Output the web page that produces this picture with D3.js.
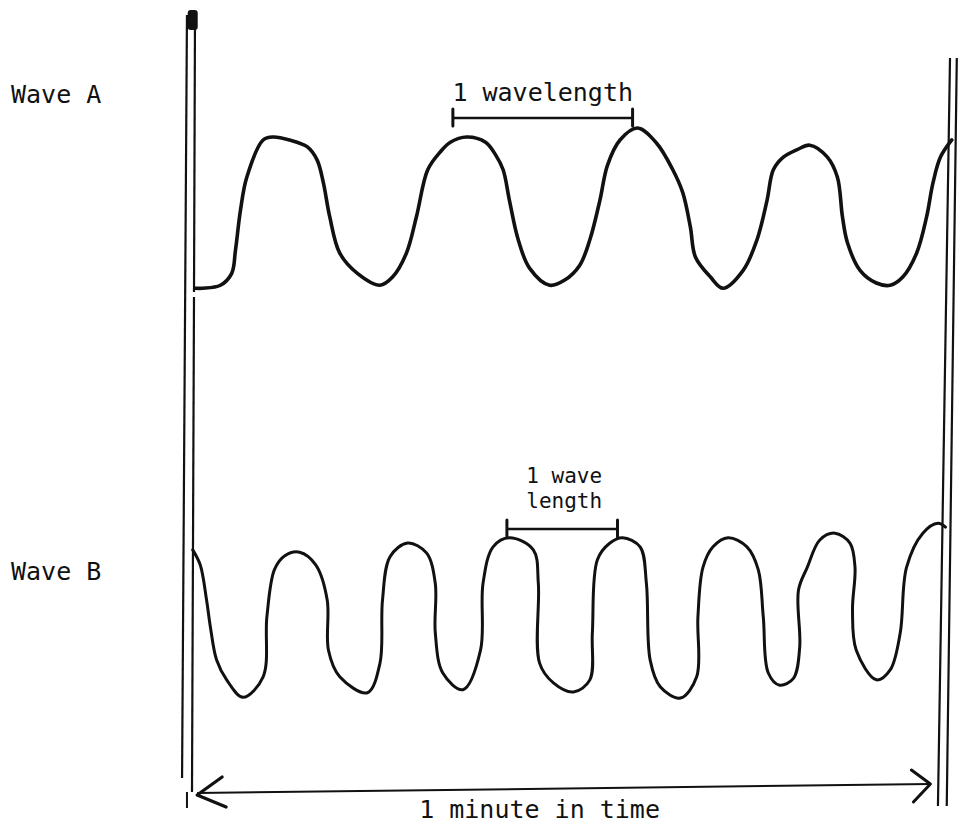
<!DOCTYPE html>
<html>
<head>
<meta charset="utf-8">
<script src="https://cdn.jsdelivr.net/npm/d3@7"></script>
<style>
body { margin: 0; background: #fff; }
svg text { font-family: "DejaVu Sans Mono", monospace; font-size: 25px; fill: #111; }
svg text.small { font-size: 21px; }
</style>
</head>
<body>
<svg id="chart" width="960" height="832"></svg>
<script>
// one minute of each trace
// time in seconds, amplitude -1 (trough) .. 1 (crest)
var wave_a_time = [0.1, 0.7, 2.1, 3.0, 3.3, 3.7, 4.2, 5.5, 6.3, 7.6, 9.0, 9.8, 10.3, 10.8, 11.6, 13.0, 14.8, 15.8, 16.9, 17.7,
	18.6, 19.6, 20.4, 21.7, 23.2, 24.0, 24.6, 25.1, 25.8, 26.7, 28.3, 29.5, 30.7, 31.5, 32.3, 32.9, 33.9, 35.3, 36.8, 38.1,
	38.9, 39.5, 39.9, 41.1, 42.1, 43.7, 44.8, 45.6, 46.1, 46.9, 48.0, 49.0, 50.4, 51.2, 51.6, 52.0, 53.0, 54.3, 55.4, 56.4,
	57.5, 58.3, 58.8, 59.4, 60.3];
var wave_a_amp = [-1.03, -1.03, -0.99, -0.83, -0.52, 0.02, 0.46, 0.96, 1.0, 0.96, 0.87, 0.69, 0.38, -0.07, -0.56, -0.83, -0.99, -0.88, -0.56, -0.07,
	0.56, 0.80, 0.93, 1.0, 0.93, 0.76, 0.56, 0.15, -0.38, -0.76, -0.99, -0.92, -0.72, -0.38, 0.15, 0.62, 0.96, 1.12, 0.92, 0.56,
	0.25, -0.21, -0.61, -0.88, -1.03, -0.79, -0.38, 0.15, 0.56, 0.73, 0.83, 0.89, 0.73, 0.46, -0.07, -0.42, -0.79, -0.96, -0.99, -0.88,
	-0.56, -0.07, 0.38, 0.73, 0.96];

var wave_b_time = [-0.1, 0.5, 1.0, 1.3, 1.8, 2.6, 3.9, 5.5, 5.8, 6.4, 7.2, 8.4, 9.7, 10.6, 10.7, 11.6, 13.8, 14.8, 15.0, 15.6,
	17.0, 18.5, 19.2, 19.2, 19.8, 21.4, 22.8, 23.0, 23.8, 25.1, 27.0, 27.4, 27.5, 28.6, 30.2, 31.5, 31.7, 32.1, 33.1, 34.1,
	35.5, 36.0, 36.3, 37.1, 38.7, 40.0, 40.1, 40.5, 41.3, 42.5, 44.0, 44.9, 45.3, 45.7, 46.6, 47.7, 48.2, 48.1, 48.8, 49.8,
	51.0, 52.2, 52.6, 52.4, 52.7, 54.3, 55.4, 56.2, 56.7, 58.0, 59.2, 59.8];
var wave_b_amp = [0.87, 0.67, 0.21, -0.14, -0.58, -0.84, -1.07, -0.80, -0.01, 0.61, 0.79, 0.84, 0.67, 0.21, -0.45, -0.80, -1.01, -0.62, 0.21, 0.78,
	0.96, 0.83, 0.43, -0.22, -0.75, -0.97, -0.45, 0.43, 0.91, 1.03, 0.87, 0.43, -0.62, -0.88, -1.0, -0.84, -0.22, 0.74, 0.96, 1.03,
	0.91, 0.43, -0.58, -0.93, -1.08, -0.80, -0.01, 0.64, 0.91, 1.03, 0.91, 0.61, -0.01, -0.75, -0.91, -0.82, -0.41, 0.34, 0.64, 1.0,
	1.09, 0.96, 0.64, 0.08, -0.45, -0.84, -0.71, -0.22, 0.64, 1.09, 1.22, 1.17];

var labels = ["Wave A", "Wave B"];
// marked wavelengths, crest to crest, in seconds
var wavelength_a = [20.6, 34.9];
var wavelength_b = [24.9, 33.7];
var span_label = "1 minute in time";

var svg = d3.select("#chart");
var ink = "#111";

var x = d3.scaleLinear().domain([0, 60]).range([194, 948]);
var ya = d3.scaleLinear().domain([-1, 1]).range([286, 137]);
var yb = d3.scaleLinear().domain([-1, 1]).range([692, 540]);

var pts = function(t, a){
	return t.map(function(d, i){ return [d, a[i]]; });
};

var line_a = d3.line()
	.x(function(d){ return x(d[0]); })
	.y(function(d){ return ya(d[1]); })
	.curve(d3.curveCatmullRom.alpha(0.5));
var line_b = d3.line()
	.x(function(d){ return x(d[0]); })
	.y(function(d){ return yb(d[1]); })
	.curve(d3.curveCatmullRom.alpha(0.5));

svg.append("path")
	.datum(pts(wave_a_time, wave_a_amp))
	.attr("d", line_a)
	.attr("fill", "none")
	.attr("stroke", ink)
	.attr("stroke-width", 3.6)
	.attr("stroke-linejoin", "round")
	.attr("stroke-linecap", "round");

svg.append("path")
	.datum(pts(wave_b_time, wave_b_amp))
	.attr("d", line_b)
	.attr("fill", "none")
	.attr("stroke", ink)
	.attr("stroke-width", 3)
	.attr("stroke-linejoin", "round")
	.attr("stroke-linecap", "round");

// the two hand ruled boundary lines (start and end of the minute)
var rule = function(t0, y0, t1, y1, w){
	svg.append("line")
		.attr("x1", x(t0)).attr("y1", y0)
		.attr("x2", x(t1)).attr("y2", y1)
		.attr("stroke", ink)
		.attr("stroke-width", w || 2.2);
};
rule(-0.56, 15, -0.95, 778);
rule(0.08, 15, 0.0, 292);
rule(0.0, 297, -0.16, 792);
rule(-0.56, 792, -0.56, 808, 2);
svg.append("rect")
	.attr("x", x(-0.5)).attr("y", 10)
	.attr("width", 10).attr("height", 20)
	.attr("rx", 3)
	.attr("fill", ink);

rule(60.16, 58, 59.2, 806);
rule(60.7, 58, 59.9, 806);

// wavelength brackets
var bracket = function(span, y){
	svg.append("line")
		.attr("x1", x(span[0])).attr("x2", x(span[1]))
		.attr("y1", y).attr("y2", y)
		.attr("stroke", ink).attr("stroke-width", 2.6);
	span.forEach(function(t){
		svg.append("line")
			.attr("x1", x(t)).attr("x2", x(t))
			.attr("y1", y - 9).attr("y2", y + 8)
			.attr("stroke", ink).attr("stroke-width", 3)
			.attr("stroke-linecap", "round");
	});
};
bracket(wavelength_a, 118);
bracket(wavelength_b, 529);

svg.append("text")
	.attr("x", x(d3.mean(wavelength_a)))
	.attr("y", 101)
	.attr("text-anchor", "middle")
	.text("1 wavelength");

var bx = x(d3.mean(wavelength_b)) + 2;
svg.append("text")
	.classed("small", true)
	.attr("x", bx).attr("y", 483)
	.attr("text-anchor", "middle")
	.text("1 wave");
svg.append("text")
	.classed("small", true)
	.attr("x", bx).attr("y", 508)
	.attr("text-anchor", "middle")
	.text("length");

svg.selectAll("text.label")
	.data(labels)
	.enter()
	.append("text")
	.classed("label", true)
	.attr("x", 11)
	.attr("y", function(d, i){ return i == 0 ? 103 : 580; })
	.text(function(d){ return d; });

// the "one minute" double arrow
var a0 = 0.25, a1 = 58.6, ay0 = 793, ay1 = 784;
svg.append("line")
	.attr("x1", x(a0)).attr("y1", ay0)
	.attr("x2", x(a1)).attr("y2", ay1)
	.attr("stroke", ink).attr("stroke-width", 2);
svg.append("path")
	.attr("d", "M" + (x(a0) + 25) + "," + (ay0 - 16) + "L" + x(a0) + "," + (ay0 + 2) + "L" + (x(a0) + 29) + "," + (ay0 + 14))
	.attr("fill", "none").attr("stroke", ink).attr("stroke-width", 3.2)
	.attr("stroke-linejoin", "round").attr("stroke-linecap", "round");
svg.append("path")
	.attr("d", "M" + (x(a1) - 19) + "," + (ay1 - 14) + "L" + x(a1) + "," + ay1 + "L" + (x(a1) - 17) + "," + (ay1 + 18))
	.attr("fill", "none").attr("stroke", ink).attr("stroke-width", 3)
	.attr("stroke-linejoin", "round").attr("stroke-linecap", "round");

svg.append("text")
	.attr("x", x(27.5))
	.attr("y", 818)
	.attr("text-anchor", "middle")
	.text(span_label);
</script>
</body>
</html>
